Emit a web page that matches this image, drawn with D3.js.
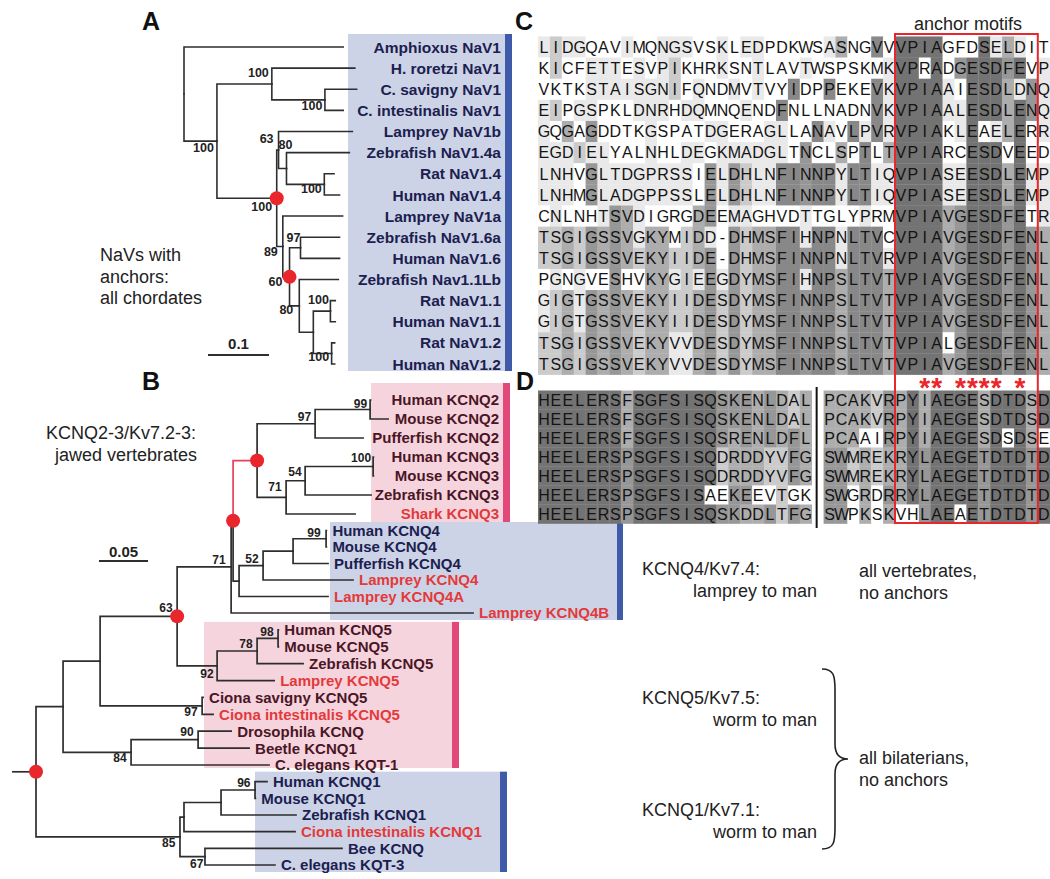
<!DOCTYPE html>
<html><head><meta charset="utf-8">
<script src="https://cdn.jsdelivr.net/npm/d3@7"></script>
<style>body{margin:0;background:#fff}svg{display:block}text{font-family:"Liberation Sans",Arial,Helvetica,sans-serif}</style>
</head><body><svg id="c" width="1050" height="879"></svg>
<script>
// ================= DATA =================
// Trees: leaf = [name, branchLength]; internal = [key, branchLength, support, children]
const navTree = ["root", 0, null, [
  ["Amphioxus NaV1", 0.261],
  ["n1", 0.054, "100", [
    ["n2", 0.090, "100", [
      ["H. roretzi NaV1", 0.136],
      ["n3", 0.087, "100", [["C. savigny NaV1", 0.052], ["C. intestinalis NaV1", 0.030]]]
    ]],
    ["n4", 0.098, "100", [
      ["n5", 0.003, "63", [
        ["Lamprey NaV1b", 0.121],
        ["n6", 0.013, "80", [
          ["Zebrafish NaV1.4a", 0.103],
          ["n7", 0.062, "100", [["Rat NaV1.4", 0.016], ["Human NaV1.4", 0.025]]]
        ]]
      ]],
      ["n8", 0.010, "89", [
        ["Lamprey NaV1a", 0.098],
        ["n9", 0.011, "60", [
          ["n10", 0.018, "97", [["Zebrafish NaV1.6a", 0.064], ["Human NaV1.6", 0.064]]],
          ["n11", 0.016, "80", [
            ["Zebrafish Nav1.1Lb", 0.064],
            ["n12", 0.023, null, [
              ["n13", 0.028, "100", [["Rat NaV1.1", 0.008], ["Human NaV1.1", 0.008]]],
              ["n14", 0.030, "100", [["Rat NaV1.2", 0.005], ["Human NaV1.2", 0.005]]]
            ]]
          ]]
        ]]
      ]]
    ]]
  ]]
]];

const kcnqTree = ["root", 0.0245, null, [
  ["A1", 0.0276, null, [
    ["A2", 0.0378, null, [
      ["A3", 0.0786, "63", [
        ["q71", 0.0551, "71", [
          ["X", 0.002, null, [
            ["Q23", 0.0245, null, [
              ["q97", 0.0592, "97", [
                ["q99", 0.0561, "99", [["Human KCNQ2", 0.0005], ["Mouse KCNQ2", 0.0184]]],
                ["Pufferfish KCNQ2", 0.049]
              ]],
              ["q71b", 0.0296, "71", [
                ["q54", 0.0194, "54", [
                  ["q100", 0.0694, "100", [["Human KCNQ3", 0.0003], ["Mouse KCNQ3", 0.0003]]],
                  ["Zebrafish KCNQ3", 0.0673]
                ]],
                ["Shark KCNQ3", 0.0704]
              ]]
            ]],
            ["q239", 0.0061, null, [
              ["q52", 0.0245, "52", [
                ["qP", 0.0306, null, [
                  ["q99b", 0.0337, "99", [["Human KCNQ4", 0.0003], ["Mouse KCNQ4", 0.0003]]],
                  ["Pufferfish KCNQ4", 0.0357]
                ]],
                ["Lamprey KCNQ4", 0.0918]
              ]],
              ["Lamprey KCNQ4A", 0.0908]
            ]]
          ]],
          ["Lamprey KCNQ4B", 0.2469]
        ]],
        ["q92", 0.0408, "92", [
          ["q78", 0.0408, "78", [
            ["q98", 0.0214, "98", [["Human KCNQ5", 0.0003], ["Mouse KCNQ5", 0.0003]]],
            ["Zebrafish KCNQ5", 0.0469]
          ]],
          ["Lamprey KCNQ5", 0.0582]
        ]]
      ]],
      ["c97", 0.1041, "97", [["Ciona savigny KCNQ5", 0.001], ["Ciona intestinalis KCNQ5", 0.0112]]]
    ]],
    ["q84", 0.0694, "84", [
      ["q90", 0.0684, "90", [["Drosophila KCNQ", 0.0337], ["Beetle KCNQ1", 0.052]]],
      ["C. elegans KQT-1", 0.1408]
    ]]
  ]],
  ["q85", 0.1469, "85", [
    ["qQ", 0.0041, null, [
      ["q221", 0.0378, null, [
        ["q96", 0.0347, "96", [["Human KCNQ1", 0.0122], ["Mouse KCNQ1", 0.0003]]],
        ["Zebrafish KCNQ1", 0.0765]
      ]],
      ["Ciona intestinalis KCNQ1", 0.1133]
    ]],
    ["q67", 0.0255, "67", [["Bee KCNQ", 0.1398], ["C. elegans KQT-3", 0.0714]]]
  ]]
]];

const navDots = ["n4", "n9"];
const kcnqDots = ["root", "A3", "X", "Q23"];
const kcnqPinkBranches = ["Q23"];
const redLabels = ["Shark KCNQ3", "Lamprey KCNQ4", "Lamprey KCNQ4A", "Lamprey KCNQ4B",
  "Lamprey KCNQ5", "Ciona intestinalis KCNQ5", "Ciona intestinalis KCNQ1"];

// Leaf-index groups (shaded boxes)
const navGroups = [{from: 0, to: 15, kind: "blue", align: "right"}];
const kcnqGroups = [
  {from: 0, to: 6, kind: "pink", align: "right"},
  {from: 7, to: 12, kind: "blue"},
  {from: 13, to: 21, kind: "pink"},
  {from: 22, to: 27, kind: "blue"}
];

// Alignment C (NaV anchor region), 16 rows matching tree A
const seqC = [
  "LIDGQAVIMQNGSVSKLEDPDKWSASNGVVVPIAGFDSELDIT",
  "KICFETTESVPIKHRKSNTLAVTWSPSKMKVPRADGESDFEVP",
  "VKTKSTAISGNIFQNDMVTVYIDPPEKEVKVPIAAIESDLDNQ",
  "EIPGSPKLDNRHDQMNQENDFNLLNADNVKVPIAALESDLENQ",
  "GQGAGDDTKGSPATDGERAGLLANAVLPVRVPIAKLEAELERR",
  "EGDIELYALNHLDEGKMADGLTNCLSPTLTVPIARCESDVEED",
  "LNHVGLTDGPRSSIELDHLNFINNPYLTIQVPIASEESDLEMP",
  "LNHMGLADGPPSSLELDHLNFINNPYLTIQVPIASEESDLEMP",
  "CNLNHTSVDIGRGDEEMAGHVDTTGLYPRMVPIAVGESDFETR",
  "TSGIGSSVGKYMIDD-DHMSFIHNPNLTVCVPIAVGESDFENL",
  "TSGIGSSVEKYIIDE-DHMSFINNPNLTVRVPIAVGESDFENL",
  "PGNGVESHVKYGIEEGDYMSFIHNPSLTVTVPIAVGESDFENL",
  "GIGTGSSVEKYIIDESDYMSFINNPSLTVTVPIAVGESDFENL",
  "GIGTGSSVEKYIIDESDYMSFINNPSLTVTVPIAVGESDFENL",
  "TSGIGSSVEKYVVDESDYMSFINNPSLTVTVPIALGESDFENL",
  "TSGIGSSVEKYVVDESDYMSFINNPSLTVTVPIAVGESDFENL"
];
// Alignment D (KCNQ2/3), two blocks, 7 rows matching KCNQ2/3 leaves
const seqDLeft = [
  "HEELERSFSGFSISQSKENLDAL", "HEELERSFSGFSISQSKENLDAL", "HEELERSFSGFSISQSRENLDFL",
  "HEELERSPSGFSISQDRDDYVFG", "HEELERSPSGFSISQDRDDYVFG", "HEELERSPSGFSISAEKEEVTGK",
  "HEELERSPSGFSISQSKDDLTFG"
];
const seqDRight = [
  "PCAKVRPYIAEGESDTDSD", "PCAKVRPYIAEGESDTDSD", "PCAAIRPYIAEGESDSDSE",
  "SWMREKRYLAEGETDTDTD", "SWMREKRYLAEGETDTDTD", "SWGRDRRYLAEGETDTDTD",
  "SWPKSKVHLAEAETDTDTD"
];
const anchorCols = [30, 41];          // alignment columns inside the anchor-motif box
const starCols = [32, 33, 35, 36, 37, 38, 40];

const sideNotes = [
  {lines: ["NaVs with", "anchors:", "all chordates"]},
  {lines: ["KCNQ2-3/Kv7.2-3:", "jawed vertebrates"]},
  {lines: ["KCNQ4/Kv7.4:", "lamprey to man"]},
  {lines: ["all vertebrates,", "no anchors"]},
  {lines: ["KCNQ5/Kv7.5:", "worm to man"]},
  {lines: ["KCNQ1/Kv7.1:", "worm to man"]},
  {lines: ["all bilaterians,", "no anchors"]}
];

// ================= STYLE / LAYOUT =================
const COL = {line: "#2e2e2e", pink: "#e8405e", dot: "#e8262b", blueFill: "#cdd3e6", blueBar: "#3e5aa8",
  pinkFill: "#f6d4dd", pinkBar: "#e2497a", navy: "#1b2050", maroon: "#4a1626", red: "#e23a3a", text: "#222"};

const svg = d3.select("#c");

const xA = d3.scaleLinear().domain([0, 1]).range([184, 794]);
const yA = d3.scaleLinear().domain([0, 15]).range([47, 364]);
const xB = d3.scaleLinear().domain([0, 1]).range([12, 992]);
const yB = d3.scaleLinear().domain([0, 6, 12, 21, 27]).range([400, 514, 613, 765, 865]);

function toObj(a) {
  if (a.length === 2) return {name: a[0], len: a[1]};
  return {key: a[0], len: a[1], support: a[2], children: a[3].map(toObj)};
}
function layoutTree(data, xs, ys) {
  const root = d3.hierarchy(toObj(data));
  root.eachBefore(n => { n.dist = (n.parent ? n.parent.dist : 0) + n.data.len; });
  root.leaves().forEach((l, i) => { l.idx = i; l.py = ys(i); });
  root.eachAfter(n => { if (n.children) n.py = (n.children[0].py + n.children[n.children.length - 1].py) / 2; });
  root.each(n => { n.px = xs(n.dist); });
  return root;
}

function drawTree(g, root, o) {
  o.boxes.forEach((b, i) => {
    const grp = o.groups[i];
    const y0 = o.y(grp.from) - b.top, y1 = o.y(grp.to) + b.bot;
    g.append("rect").attr("x", b.x0).attr("y", y0).attr("width", b.x1 - b.x0).attr("height", y1 - y0)
      .attr("fill", grp.kind === "blue" ? COL.blueFill : COL.pinkFill);
    g.append("rect").attr("x", b.x1).attr("y", y0).attr("width", b.bar).attr("height", y1 - y0)
      .attr("fill", grp.kind === "blue" ? COL.blueBar : COL.pinkBar);
  });
  const links = root.descendants().filter(d => d.parent);
  const isPink = d => o.pink.includes(d.data.key);
  g.selectAll("path.lk").data(links.filter(d => !isPink(d)).concat(links.filter(isPink))).join("path")
    .attr("d", d => `M${d.parent.px},${d.parent.py}V${d.py}H${d.px}`)
    .attr("fill", "none").attr("stroke", d => isPink(d) ? COL.pink : COL.line)
    .attr("stroke-width", o.lw).attr("stroke-linejoin", "miter").attr("stroke-linecap", "square");
  if (root.data.len > 0) {
    g.append("line").attr("x1", o.x(0)).attr("x2", root.px).attr("y1", root.py).attr("y2", root.py)
      .attr("stroke", COL.line).attr("stroke-width", o.lw);
  }
  root.descendants().filter(d => d.data.support).forEach(d => {
    const p = o.supPos[d.data.key] || [-4, -4];
    g.append("text").attr("x", d.px + p[0]).attr("y", d.py + p[1])
      .attr("text-anchor", p[2] || "end").attr("font-size", o.supSize).attr("font-weight", "bold")
      .attr("fill", COL.text).text(d.data.support);
  });
  root.leaves().forEach(l => {
    const gi = o.groups.findIndex(gr => l.idx >= gr.from && l.idx <= gr.to);
    const grp = o.groups[gi], box = o.boxes[gi];
    const right = grp.align === "right";
    const color = redLabels.includes(l.data.name) ? COL.red : (grp.kind === "blue" ? COL.navy : COL.maroon);
    g.append("text").attr("x", right ? box.x1 - 4 : l.px + 6).attr("y", l.py).attr("dy", "0.36em")
      .attr("text-anchor", right ? "end" : "start").attr("font-size", o.labSize).attr("font-weight", "bold")
      .attr("fill", color).text(l.data.name);
  });
  root.descendants().filter(d => o.dots.includes(d.data.key)).forEach(d => {
    g.append("circle").attr("cx", d.px).attr("cy", d.py).attr("r", 7).attr("fill", COL.dot);
  });
}

// ---- Panel A ----
const rootA = layoutTree(navTree, xA, yA);
drawTree(svg.append("g"), rootA, {
  x: xA, y: yA, lw: 1.6, supSize: 12.5, labSize: 15.5, dots: navDots, pink: [], groups: navGroups,
  boxes: [{x0: 348, x1: 505, bar: 7, top: 13, bot: 7}],
  supPos: {n1: [-3, 10.5], n2: [-3, -6.5], n3: [-2.5, 10], n4: [-4.5, 12.5], n5: [-5, -7.5],
    n6: [-8, -19.5, "start"], n7: [-2.5, 9], n8: [-5, 9.5], n9: [-7, 9], n10: [0, -6], n11: [-6, 8],
    n13: [-1.5, -7], n14: [-2.5, 8]}
});
svg.append("line").attr("x1", 208).attr("x2", 208 + xA(0.1) - xA(0)).attr("y1", 355).attr("y2", 355)
  .attr("stroke", COL.line).attr("stroke-width", 2);
svg.append("text").attr("x", 208 + (xA(0.1) - xA(0)) / 2).attr("y", 348.5).attr("text-anchor", "middle")
  .attr("font-size", 15).attr("font-weight", "bold").attr("fill", COL.text).text("0.1");

// ---- Panel B ----
const rootB = layoutTree(kcnqTree, xB, yB);
drawTree(svg.append("g"), rootB, {
  x: xB, y: yB, lw: 1.7, supSize: 12, labSize: 15, dots: kcnqDots, pink: kcnqPinkBranches, groups: kcnqGroups,
  boxes: [{x0: 371, x1: 503, bar: 7, top: 17, bot: 8}, {x0: 330, x1: 617, bar: 6, top: 8.5, bot: 7},
    {x0: 204, x1: 452, bar: 7, top: 8, bot: 3}, {x0: 255, x1: 500, bar: 7, top: 10, bot: 7}],
  supPos: {q99: [-3, -1.5], q97: [-4, -3], q71b: [-4.5, -6], q54: [-3.5, -4.5], q100: [-2, -4.5],
    q99b: [-5.5, -2], q52: [-4.5, -3], q71: [-5.5, -3], A3: [-4.5, -4], q78: [-4.5, -3], q98: [-4.5, -2.5],
    q92: [-3.5, 12.5], c97: [-4.5, 10.5], q90: [-4.5, -3.5], q84: [-4.5, 10], q96: [-4.5, -3],
    q85: [-4.5, 10.5], q67: [-1.5, 11]}
});
svg.append("line").attr("x1", 99).attr("x2", 99 + xB(0.05) - xB(0)).attr("y1", 561).attr("y2", 561)
  .attr("stroke", COL.line).attr("stroke-width", 2);
svg.append("text").attr("x", 99 + (xB(0.05) - xB(0)) / 2).attr("y", 557).attr("text-anchor", "middle")
  .attr("font-size", 15).attr("font-weight", "bold").attr("fill", COL.text).text("0.05");

// ---- Alignments C & D ----
const xCol = d3.scaleBand().domain(d3.range(43)).range([538, 538 + 43 * 11.9]);
const bw = xCol.bandwidth();
function shade(count, n) {
  if (count < 2) return "#ffffff";
  const f = count / n;
  if (f >= 0.85) return "#737373";
  if (f >= 0.6) return "#888888";
  if (f >= 0.45) return "#979797";
  if (f >= 0.35) return "#adadad";
  if (f >= 0.2) return "#cbcbcb";
  return "#e9e9e9";
}
function drawBlock(g, rows, colOffset, rowY, cellH) {
  const n = rows.length, L = rows[0].length;
  const cells = [];
  for (let j = 0; j < L; j++) {
    const counts = d3.rollup(rows.map(r => r[j]), v => v.length, c => c);
    rows.forEach((r, i) => {
      const ch = r[j];
      cells.push({ch, i, col: j + colOffset, fill: ch === "-" ? "#ffffff" : shade(counts.get(ch), n)});
    });
  }
  g.selectAll(null).data(cells).join("rect")
    .attr("x", d => xCol(d.col)).attr("y", d => rowY(d.i) - cellH / 2).attr("width", bw + 0.3).attr("height", cellH + 0.3)
    .attr("fill", d => d.fill);
  g.selectAll(null).data(cells).join("text")
    .attr("x", d => xCol(d.col) + bw / 2).attr("y", d => rowY(d.i)).attr("dy", "0.36em")
    .attr("text-anchor", "middle").attr("font-size", 16).attr("fill", "#141414").text(d => d.ch);
}
const gC = svg.append("g");
drawBlock(gC, seqC, 0, i => yA(i), yA(1) - yA(0));
const gD = svg.append("g");
drawBlock(gD, seqDLeft, 0, i => yB(i), 19);
drawBlock(gD, seqDRight, 24, i => yB(i), 19);
svg.append("line").attr("x1", xCol(23) + bw / 2 - 1).attr("x2", xCol(23) + bw / 2 - 1)
  .attr("y1", yB(0) - 13).attr("y2", yB(6) + 14).attr("stroke", "#111").attr("stroke-width", 2);
svg.append("rect").attr("x", xCol(anchorCols[0])).attr("y", yA(0) - 13)
  .attr("width", xCol(anchorCols[1]) + bw - xCol(anchorCols[0])).attr("height", yB(6) + 9 - (yA(0) - 13))
  .attr("fill", "none").attr("stroke", COL.dot).attr("stroke-width", 2);
svg.selectAll("text.star").data(starCols).join("text").attr("class", "star")
  .attr("x", d => xCol(d) + bw / 2).attr("y", 397).attr("text-anchor", "middle")
  .attr("font-size", 28).attr("font-weight", "bold").attr("fill", COL.dot).text("*");
svg.append("text").attr("x", 968).attr("y", 30).attr("text-anchor", "middle").attr("font-size", 18)
  .attr("fill", COL.text).text("anchor motifs");

// ---- Panel letters ----
[["A", 151, 30], ["B", 151, 390], ["C", 524, 30], ["D", 525, 390]].forEach(([t, x, y]) =>
  svg.append("text").attr("x", x).attr("y", y).attr("text-anchor", "middle").attr("font-size", 25)
    .attr("font-weight", "bold").attr("fill", "#111").text(t));

// ---- Side notes ----
const notePos = [
  {x: 100, y: 261, lh: 21.5, anchor: ["start", "start", "start"]},
  {x: 46, y: 439, lh: 22, anchor: ["start", "start"], dx: [0, 9]},
  {x: 642, y: 575, lh: 22, anchor: ["start", "end"], dx: [0, 175]},
  {x: 859, y: 577, lh: 22, anchor: ["start", "start"]},
  {x: 642, y: 704, lh: 22, anchor: ["start", "end"], dx: [0, 175]},
  {x: 642, y: 816, lh: 22, anchor: ["start", "end"], dx: [0, 175]},
  {x: 859, y: 764, lh: 22, anchor: ["start", "start"]}
];
sideNotes.forEach((n, k) => {
  const p = notePos[k];
  n.lines.forEach((ln, i) => {
    svg.append("text").attr("x", p.x + (p.dx ? p.dx[i] : 0)).attr("y", p.y + i * p.lh)
      .attr("text-anchor", p.anchor[i]).attr("font-size", 18).attr("fill", COL.text).text(ln);
  });
});
svg.append("path").attr("d",
  "M822,669 C834,669 835,676 835,690 L835,744 C835,754 840,759 848,759 C840,759 835,764 835,774 L835,828 C835,842 834,849 822,849")
  .attr("fill", "none").attr("stroke", COL.text).attr("stroke-width", 1.6);
</script></body></html>
